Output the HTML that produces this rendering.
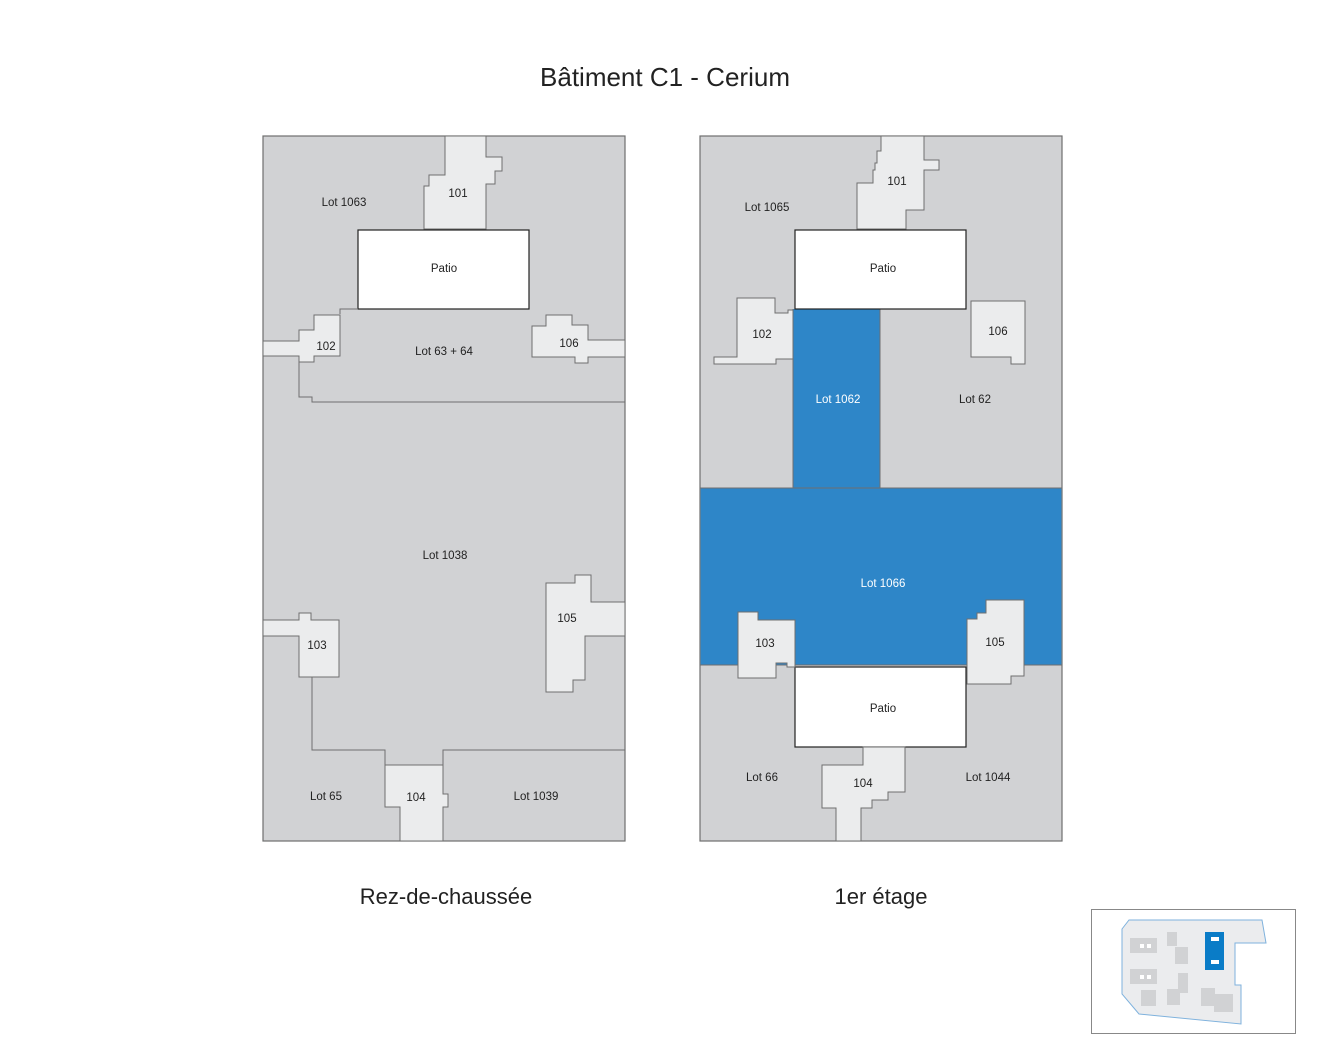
<!DOCTYPE html>
<html><head><meta charset="utf-8"><style>
html,body{margin:0;padding:0;background:#fff;}
svg{display:block;font-family:"Liberation Sans",sans-serif;}
.g{fill:#d1d2d4;stroke:#6f6f6f;stroke-width:1.2}
.l{fill:#ebeced;stroke:#6f6f6f;stroke-width:1}
.ln{fill:none;stroke:#6f6f6f;stroke-width:1}
.p{fill:#fff;stroke:#222;stroke-width:1.2}
.b{fill:#2e86c8;stroke:none}
text{font-size:11.5px;fill:#222;text-anchor:middle}
.w{fill:#fff}
.ib{fill:#d1d2d4}
</style></head><body>
<svg width="1330" height="1060" viewBox="0 0 1330 1060">
<text x="665" y="86" style="font-size:26px">Bâtiment C1 - Cerium</text>
<text x="446" y="904" style="font-size:22px">Rez-de-chaussée</text>
<text x="881" y="904" style="font-size:22px">1er étage</text>

<!-- LEFT -->
<rect class="g" x="263" y="136" width="362" height="705"/>
<polygon class="l" points="445,136 486,136 486,157 502,157 502,171 495,171 495,184 486,184 486,229 424,229 424,186 429,186 429,175 445,175"/>
<rect class="p" x="358" y="230" width="171" height="79"/>
<polyline class="ln" points="340,314 340,309 358,309"/>
<polygon class="l" points="263,341 299,341 299,330 314,330 314,315 340,315 340,356 314,356 314,362 299,362 299,356 263,356"/>
<polyline class="ln" points="299,362 299,397 312,397 312,402 625,402"/>
<polygon class="l" points="532,326 546,326 546,315 572,315 572,325 588,325 588,340 625,340 625,357 588,357 588,363 575,363 575,357 532,357"/>
<polygon class="l" points="263,620 299,620 299,613 311,613 311,620 339,620 339,677 299,677 299,636 263,636"/>
<polyline class="ln" points="312,677 312,750 385,750 385,765"/>
<polyline class="ln" points="443,765 443,750 625,750"/>
<polygon class="l" points="385,765 443,765 443,794 448,794 448,807 443,807 443,841 400,841 400,807 385,807"/>
<polygon class="l" points="546,583 575,583 575,575 591,575 591,602 625,602 625,636 585,636 585,680 573,680 573,692 546,692"/>
<text x="344" y="206">Lot 1063</text>
<text x="458" y="197">101</text>
<text x="444" y="272">Patio</text>
<text x="326" y="350">102</text>
<text x="444" y="355">Lot 63 + 64</text>
<text x="569" y="347">106</text>
<text x="445" y="559">Lot 1038</text>
<text x="567" y="622">105</text>
<text x="317" y="649">103</text>
<text x="326" y="800">Lot 65</text>
<text x="416" y="801">104</text>
<text x="536" y="800">Lot 1039</text>

<!-- RIGHT -->
<rect class="g" x="700" y="136" width="362" height="705"/>
<rect class="b" x="700.6" y="488" width="360.8" height="177"/>
<rect class="b" x="793" y="309" width="87" height="179"/>
<path class="ln" d="M793,309 V488 M880,309 V488 M700,488 H1062 M700,665 H1062"/>
<polygon class="l" points="881,136 924,136 924,160 939,160 939,170 924,170 924,210 906,210 906,229 857,229 857,183 873,183 873,170 875,170 875,163 877,163 877,151 881,151"/>
<rect class="p" x="795" y="230" width="171" height="79"/>
<polygon class="l" points="737,298 775,298 775,313 788,313 788,310 793,310 793,359 776,359 776,364 737,364 714,364 714,357 737,357"/>
<polygon class="l" points="971,301 1025,301 1025,364 1011,364 1011,357 971,357"/>
<rect class="p" x="795" y="667" width="171" height="80"/>
<polygon class="l" points="738,612 758,612 758,620 795,620 795,667 787,667 787,663 776,663 776,678 738,678"/>
<polygon class="l" points="986,600 1024,600 1024,676 1011,676 1011,684 967,684 967,619 977,619 977,613 986,613"/>
<polygon class="l" points="863,747 905,747 905,792 888,792 888,800 872,800 872,808 861,808 861,841 836,841 836,808 822,808 822,765 863,765"/>
<text x="767" y="211">Lot 1065</text>
<text x="897" y="185">101</text>
<text x="883" y="272">Patio</text>
<text x="762" y="338">102</text>
<text x="998" y="335">106</text>
<text x="838" y="403" class="w">Lot 1062</text>
<text x="975" y="403">Lot 62</text>
<text x="883" y="587" class="w">Lot 1066</text>
<text x="765" y="647">103</text>
<text x="995" y="646">105</text>
<text x="883" y="712">Patio</text>
<text x="762" y="781">Lot 66</text>
<text x="863" y="787">104</text>
<text x="988" y="781">Lot 1044</text>

<!-- INSET -->
<rect x="1091.5" y="909.5" width="204" height="124" fill="#fff" stroke="#888"/>
<polygon points="1129,920 1262,920 1266,943 1235,943 1235,985 1241,985 1241,1024 1139,1014 1122,994 1122,929" fill="#ebecee" stroke="#7fb2dd" stroke-width="1"/>
<rect class="ib" x="1130" y="938" width="27" height="15"/>
<rect class="ib" x="1167" y="932" width="10" height="14"/>
<rect class="ib" x="1175" y="947" width="13" height="17"/>
<rect class="ib" x="1130" y="969" width="27" height="15"/>
<rect class="ib" x="1141" y="990" width="15" height="16"/>
<rect class="ib" x="1178" y="973" width="10" height="20"/>
<rect class="ib" x="1167" y="989" width="13" height="16"/>
<rect class="ib" x="1201" y="988" width="14" height="18"/>
<rect class="ib" x="1214" y="994" width="19" height="18"/>
<rect x="1205" y="932" width="19" height="38" fill="#0a7cc7"/>
<rect x="1211" y="937" width="8" height="4" fill="#fff"/>
<rect x="1211" y="960" width="8" height="4" fill="#fff"/>
<rect x="1140" y="944" width="4" height="4" fill="#fff"/>
<rect x="1147" y="944" width="4" height="4" fill="#fff"/>
<rect x="1140" y="975" width="4" height="4" fill="#fff"/>
<rect x="1147" y="975" width="4" height="4" fill="#fff"/>
</svg>
</body></html>
